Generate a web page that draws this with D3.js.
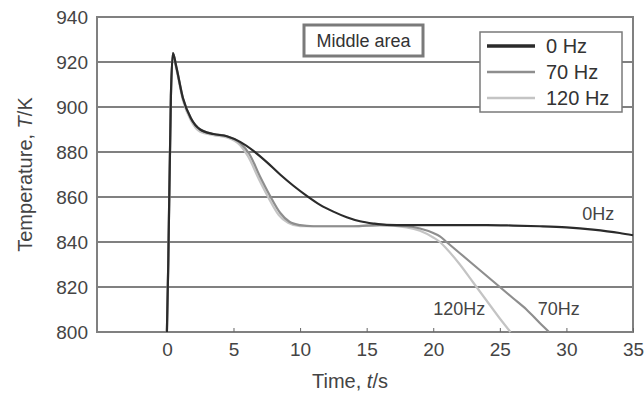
<html>
  <head>
    <meta charset="UTF-8">
    <title>Middle area cooling curves</title>
    <style type="text/css">
      body { margin: 0; background-color: #fff; }
      svg { display: block; font-family: "Liberation Sans", Arial, sans-serif; }
      .grid line { stroke: #808080; stroke-width: 2px; }
      .axis path { stroke: none; }
      .axis text { fill: #444; font-size: 19px; }
      .axis line { stroke: #666; }
      .frame { fill: none; stroke: #808080; stroke-width: 2px; }
      .curve { fill: none; stroke-width: 2.2px; stroke-linejoin: round; }
      .label { fill: #444; font-size: 20px; }
      .note { fill: #444; font-size: 18px; }
    </style>
    <script src="https://cdn.jsdelivr.net/npm/d3@7"></script>
  </head>
  <body>
    <div id="chart"></div>
    <script type="text/javascript">

      // data
      var series = ["0 Hz", "70 Hz", "120 Hz"];
      var colors = ["#2b2b2b", "#8e8e8e", "#c4c4c4"];
      var notes = ["0Hz", "70Hz", "120Hz"];

      var time0 = [0, 0.1, 0.3, 0.45, 0.7, 1.2, 1.8, 2.5, 3.5, 4.5, 5.5, 6.5, 7.5, 8.5, 9.5, 10.5, 11.5, 12.5, 13.5, 14.5, 15.5, 16.5, 18, 20, 22, 24, 26, 28, 30, 32, 34, 35];
      var temp0 = [800, 830, 905, 924, 918, 904, 895, 890, 888, 887, 884.5, 880.5, 875.5, 870, 865, 860.5, 856.5, 853.5, 851, 849.2, 848.2, 847.6, 847.5, 847.5, 847.5, 847.5, 847.3, 847, 846.5, 845.5, 844, 843];

      var time70 = [0, 0.1, 0.3, 0.45, 0.7, 1.2, 1.8, 2.5, 3.5, 4.5, 5.5, 6.2, 7, 7.7, 8.5, 9.2, 10, 11, 12, 14, 16, 18, 19, 20, 20.5, 21, 22, 23, 24, 25, 26, 27, 28, 28.7];
      var temp70 = [800, 830, 905, 924, 918, 904, 895, 890, 888, 887, 884, 879, 869, 861, 853, 849, 847.5, 847, 847, 847, 847.5, 847, 846, 844, 842.5, 840, 835, 830, 825, 820, 815, 810, 804, 800];

      var time120 = [0, 0.1, 0.3, 0.45, 0.7, 1.2, 1.8, 2.5, 3.5, 4.5, 5.5, 6.1, 6.9, 7.6, 8.4, 9.1, 10, 11, 12, 14, 16, 18, 19, 20, 20.5, 21, 22, 23, 24, 25, 25.8];
      var temp120 = [800, 830, 905, 923, 917, 903, 894, 889, 887.5, 886.5, 883, 878, 868, 860, 852, 848.5, 847, 847, 847, 847, 847.5, 846.5, 845, 842, 840, 837, 830, 822, 814, 806, 800];

      var yTicks = [800, 820, 840, 860, 880, 900, 920, 940];
      var xTicks = [0, 5, 10, 15, 20, 25, 30, 35];

      var width = 644, height = 394;
      var margin = { top: 17, right: 11, bottom: 62, left: 97 };

      var svg = d3.select("#chart").append("svg")
        .attr("width", width).attr("height", height);

      var xScale = d3.scaleLinear().domain([-5.25, 35]).range([margin.left, width - margin.right]);
      var yScale = d3.scaleLinear().domain([800, 940]).range([height - margin.bottom, margin.top]);

      // horizontal grid
      svg.append("g").attr("class", "grid")
        .selectAll("line").data(yTicks).enter().append("line")
        .attr("x1", margin.left).attr("x2", width - margin.right)
        .attr("y1", function(d) { return yScale(d); })
        .attr("y2", function(d) { return yScale(d); });

      svg.append("rect").attr("class", "frame")
        .attr("x", margin.left).attr("y", margin.top)
        .attr("width", width - margin.left - margin.right)
        .attr("height", height - margin.top - margin.bottom);

      // axes
      var yAxis = d3.axisLeft(yScale).tickValues(yTicks).tickSize(0).tickPadding(9);
      svg.append("g").attr("class", "axis")
        .attr("transform", "translate(" + margin.left + ",0)")
        .call(yAxis);

      var xAxis = d3.axisTop(xScale).tickValues(xTicks).tickSize(4).tickFormat(d3.format("d"));
      var xAxisG = svg.append("g").attr("class", "axis")
        .attr("transform", "translate(0," + (height - margin.bottom) + ")")
        .call(xAxis);
      xAxisG.selectAll("text").attr("y", 11).attr("dy", "0.71em");

      // curves
      var line = d3.line()
        .x(function(d) { return xScale(d[0]); })
        .y(function(d) { return yScale(d[1]); })
        .curve(d3.curveMonotoneX);

      var data = [d3.zip(time0, temp0), d3.zip(time70, temp70), d3.zip(time120, temp120)];
      [2, 1, 0].forEach(function(i) {
        svg.append("path").attr("class", "curve")
          .attr("d", line(data[i]))
          .attr("stroke", colors[i]);
      });

      // curve notes
      var notePos = [[33.6, 849.8], [31, 807.5], [23.9, 807.5]];
      notes.forEach(function(n, i) {
        svg.append("text").attr("class", "note")
          .attr("x", xScale(notePos[i][0])).attr("y", yScale(notePos[i][1]))
          .attr("text-anchor", "end")
          .text(n);
      });

      // "Middle area" box
      svg.append("rect")
        .attr("x", 304).attr("y", 25).attr("width", 119).attr("height", 31)
        .attr("fill", "#fff").attr("stroke", "#7a7a7a").attr("stroke-width", 3);
      svg.append("text").attr("x", 363.5).attr("y", 47)
        .attr("text-anchor", "middle").attr("fill", "#333")
        .style("font-size", "18px")
        .text("Middle area");

      // legend
      var legend = svg.append("g").attr("transform", "translate(480,32)");
      legend.append("rect").attr("width", 142).attr("height", 80)
        .attr("fill", "#fff").attr("stroke", "#7a7a7a").attr("stroke-width", 1.5);
      series.forEach(function(s, i) {
        var y = 14 + i * 26;
        legend.append("line").attr("x1", 7).attr("x2", 55)
          .attr("y1", y).attr("y2", y)
          .attr("stroke", colors[i]).attr("stroke-width", i == 0 ? 3.5 : 2.5);
        legend.append("text").attr("x", 66).attr("y", y + 7)
          .attr("fill", "#333").style("font-size", "20px")
          .text(s);
      });

      // axis titles
      var yt = svg.append("text").attr("class", "label")
        .attr("transform", "translate(32," + ((margin.top + height - margin.bottom) / 2) + ") rotate(-90)")
        .attr("text-anchor", "middle");
      yt.append("tspan").text("Temperature, ");
      yt.append("tspan").style("font-style", "italic").text("T");
      yt.append("tspan").text("/K");

      var xt = svg.append("text").attr("class", "label")
        .attr("x", 350).attr("y", 388)
        .attr("text-anchor", "middle");
      xt.append("tspan").text("Time, ");
      xt.append("tspan").style("font-style", "italic").text("t");
      xt.append("tspan").text("/s");

    </script>
  </body>
</html>
